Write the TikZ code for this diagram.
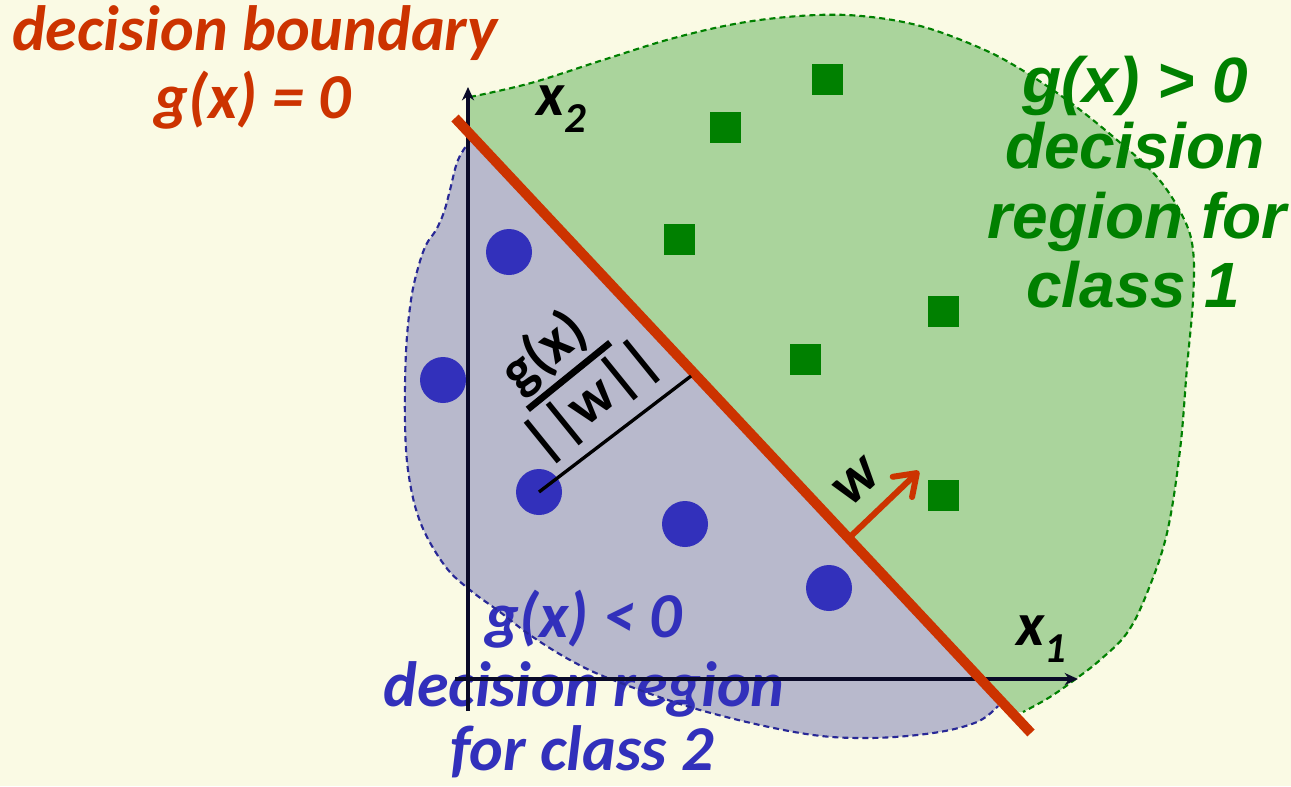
\documentclass[tikz,border=0pt]{standalone}
\usepackage{fontspec}
\usetikzlibrary{arrows.meta}
\newfontfamily\carl{Carlito}
\newfontfamily\arl{Liberation Sans}
\definecolor{bgcol}{RGB}{250,250,228}
\definecolor{gfill}{RGB}{170,212,156}
\definecolor{bfill}{RGB}{184,185,204}
\definecolor{dgreen}{RGB}{0,128,0}
\definecolor{dblue}{RGB}{50,48,187}
\definecolor{navyd}{RGB}{40,40,150}
\definecolor{redc}{RGB}{204,51,0}
\definecolor{axcol}{RGB}{10,10,40}
\begin{document}
\begin{tikzpicture}[x=0.75pt,y=-0.75pt,
  orangetxt/.style={text=redc,font=\carl\bfseries\itshape\fontsize{48}{54}\selectfont,anchor=base,inner sep=0pt},
  bluetxt/.style={text=dblue,font=\carl\bfseries\itshape\fontsize{48}{54}\selectfont,anchor=base,inner sep=0pt},
  greentxt/.style={text=dgreen,font=\arl\bfseries\itshape\fontsize{48}{54}\selectfont,anchor=base,inner sep=0pt},
  axlabel/.style={text=black,font=\carl\bfseries\itshape\fontsize{46}{51}\selectfont,inner sep=0pt},
  fraclab/.style={text=black,font=\carl\bfseries\fontsize{44}{48}\selectfont,inner sep=0pt},
  dot/.style={circle,fill=dblue,minimum size=34.5pt,inner sep=0pt},
  sq/.style={rectangle,fill=dgreen,minimum size=23.25pt,inner sep=0pt},
  axis/.style={draw=axcol,line width=2.5pt,-{Stealth[length=10pt,width=9pt]}},
  gdash/.style={draw=dgreen,line width=1.6pt,dash pattern=on 4.5pt off 3pt},
  bdash/.style={draw=navyd,line width=1.6pt,dash pattern=on 4.5pt off 3pt},
  boundary/.style={draw=redc,line width=7.5pt},
  wvec/.style={draw=redc,line width=4.5pt,line cap=round,-{Straight Barb[length=15pt,width=21pt,round]}},
  distline/.style={draw=black,line width=2.5pt}
]
\fill[bgcol] (0,0) rectangle (1291,786);
\useasboundingbox (0,0) rectangle (1291,786);

% green region (class 1)
\fill[gfill] plot[smooth,tension=0.6] coordinates {(470,97) (531,83) (603,60) (674,38) (746,22) (817,15) (871,17) (924,27) (978,47) (1017,67) (1067,100) (1117,140) (1157,177) (1183,217) (1193,250) (1193,300) (1187,367) (1180,450) (1167,533) (1147,593) (1127,633) (1100,660) (1077,678) (1050,697) (1023,712)} -- (1010,712) -- (470,134) -- cycle;
% blue region (class 2)
\fill[bfill] plot[smooth,tension=0.6] coordinates {(471,139) (458,160) (450,190) (444,212) (436,230) (426,245) (418,268) (411,300) (406,352) (405,424) (409,477) (421,524) (445,566) (470,590) (500,612) (530,635) (570,660) (613,680) (700,710) (800,733) (867,738) (933,733) (977,722) (998,706)} -- (1005,706) -- (470,134) -- cycle;

% texts
\node[orangetxt] (ob1) at (255,50) {decision boundary};
\node[orangetxt] (ob2) at (253,118) {g(x) = 0};
\node[greentxt] (gr1) at (1135,102) {g(x) > 0};
\node[greentxt] (gr2) at (1135,168) {decision};
\node[greentxt] (gr3) at (1137,238) {region for};
\node[greentxt] (gr4) at (1133,307) {class 1};
\node[bluetxt] (bl1) at (584,637) {g(x) < 0};
\node[bluetxt] (bl2) at (584,706) {decision region};
\node[bluetxt] (bl3) at (582,770) {for class 2};

% dashed outlines
\draw[gdash] plot[smooth,tension=0.6] coordinates {(470,97) (531,83) (603,60) (674,38) (746,22) (817,15) (871,17) (924,27) (978,47) (1017,67) (1067,100) (1117,140) (1157,177) (1183,217) (1193,250) (1193,300) (1187,367) (1180,450) (1167,533) (1147,593) (1127,633) (1100,660) (1077,678) (1050,697) (1023,712)};
\draw[bdash] plot[smooth,tension=0.6] coordinates {(471,139) (458,160) (450,190) (444,212) (436,230) (426,245) (418,268) (411,300) (406,352) (405,424) (409,477) (421,524) (445,566) (470,590) (500,612) (530,635) (570,660) (613,680) (700,710) (800,733) (867,738) (933,733) (977,722) (998,706)};

% axes
\coordinate (ybot) at (468,711);
\coordinate (ytop) at (468,87);
\coordinate (xleft) at (455,679);
\coordinate (xright) at (1078,679);
\draw[axis] (ybot) -- (ytop);
\draw[axis] (xleft) -- (xright);
\node[axlabel,anchor=base west] (x2lab) at (536,115) {x\raisebox{-12.75pt}{\fontsize{32}{32}\selectfont 2}};
\node[axlabel,anchor=base west] (x1lab) at (1016,645) {x\raisebox{-12.75pt}{\fontsize{32}{32}\selectfont 1}};

% class 2 points
\node[dot] (c1) at (509,252) {};
\node[dot] (c2) at (443,380) {};
\node[dot] (c3) at (539,492) {};
\node[dot] (c4) at (685,524) {};
\node[dot] (c5) at (829,588) {};
% class 1 points
\node[sq] (s1) at (827,79) {};
\node[sq] (s2) at (725,127) {};
\node[sq] (s3) at (679,239) {};
\node[sq] (s4) at (805,359) {};
\node[sq] (s5) at (943,311) {};
\node[sq] (s6) at (943,495) {};

% decision boundary
\coordinate (b1) at (455,118);
\coordinate (b2) at (1031,733);
\draw[boundary] (b1) -- (b2);

% distance
\coordinate (foot) at (691,376);
\draw[distline] (c3.center) -- (foot);
\begin{scope}[shift={(569,376)},rotate=39,transform shape]
  \node[fraclab,anchor=base] (gx) at (-4,-17) {g(x)};
  \draw[line width=5pt] (-53,0) -- (53,0);
  \node[fraclab,anchor=north] (nw) at (2,8) {||w||};
\end{scope}

% w vector
\coordinate (wstart) at (850,537);
\coordinate (wend) at (919,471);
\draw[wvec] (wstart) -- (wend);
\node[axlabel,rotate=43] (wlab) at (857,482) {w};
\end{tikzpicture}
\end{document}
